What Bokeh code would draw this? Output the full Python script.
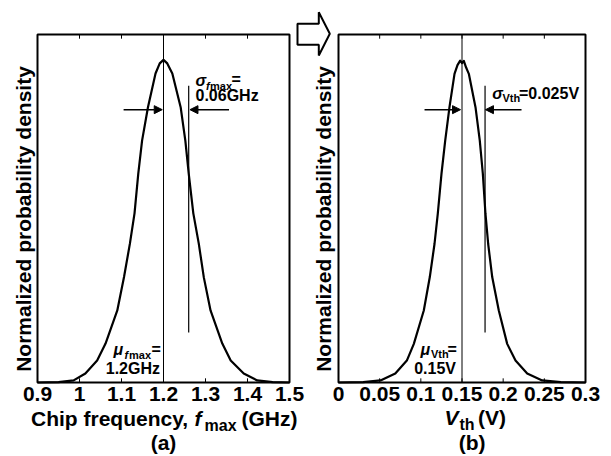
from math import pi
from bokeh.plotting import figure
from bokeh.models import Range1d, Label, Arrow, NormalHead, PolyAnnotation
from bokeh.core.properties import value
from bokeh.embed import file_html
from bokeh.resources import INLINE

# ---------------- data ----------------
fmax_ghz = [0.900, 0.950, 0.986, 1.014, 1.042, 1.062, 1.090, 1.106, 1.120,
            1.131, 1.140, 1.149, 1.163, 1.181, 1.191, 1.200, 1.209, 1.221,
            1.241, 1.252, 1.260, 1.271, 1.284, 1.296, 1.312, 1.340, 1.360,
            1.391, 1.423, 1.460, 1.500]
fmax_density = [0.000, 0.001, 0.006, 0.026, 0.063, 0.112, 0.207, 0.303, 0.399,
                0.486, 0.601, 0.695, 0.791, 0.888, 0.917, 0.927, 0.917, 0.888,
                0.790, 0.695, 0.601, 0.486, 0.399, 0.302, 0.207, 0.112, 0.063,
                0.026, 0.006, 0.001, 0.000]

vth_v = [0.000, 0.030, 0.051, 0.069, 0.083, 0.0915, 0.1036, 0.1109, 0.1166,
         0.1206, 0.1251, 0.1296, 0.1348, 0.1409, 0.1445, 0.1478, 0.1500,
         0.1522, 0.1550, 0.1583, 0.1664, 0.1716, 0.1753, 0.1785, 0.1818,
         0.1867, 0.1947, 0.2049, 0.2150, 0.2292, 0.2474, 0.2700, 0.3000]
vth_density = [0.000, 0.001, 0.006, 0.026, 0.063, 0.111, 0.207, 0.303, 0.398,
               0.485, 0.600, 0.695, 0.791, 0.887, 0.912, 0.925, 0.918,
               0.924, 0.905, 0.887, 0.791, 0.695, 0.600, 0.485, 0.398,
               0.303, 0.207, 0.111, 0.063, 0.026, 0.006, 0.001, 0.000]

fmax_ticks = [0.9, 1.0, 1.1, 1.2, 1.3, 1.4, 1.5]
fmax_tick_labels = ["0.9", "1", "1.1", "1.2", "1.3", "1.4", "1.5"]
vth_ticks = [0.0, 0.05, 0.1, 0.15, 0.2, 0.25, 0.3]
vth_tick_labels = ["0", "0.05", "0.1", "0.15", "0.2", "0.25", "0.3"]

fmax_mu, fmax_sigma_mark = 1.2, 1.26
vth_mu, vth_sigma_mark = 0.15, 0.178
sigma_mark_bottom, sigma_mark_top = 0.144, 0.853
arrow_level = 0.784
fmax_arrows = [(1.105, 1.197), (1.356, 1.263)]
vth_arrows = [(0.1045, 0.1482), (0.2223, 0.1785)]

# ---------------- layout geometry (page pixels) ----------------
W, H, PAGE = 611, 456, 0
L0, L1 = 37, 289          # left panel box
R0, R1 = 338, 585         # right panel box
TOP, BOT = 34, 382        # both boxes
TICK_LEN = 0.012          # inward tick length (in box-height units)
BASE_SHIFT = 0.42         # text anchor correction (fraction of font size)

def ly(py):
    return (BOT - py) / (BOT - TOP)

def lx(px):
    return fmax_ticks[0] + (px - L0) * (fmax_ticks[-1] - fmax_ticks[0]) / (L1 - L0)

def rx(px):
    return vth_ticks[0] + (px - R0) * (vth_ticks[-1] - vth_ticks[0]) / (R1 - R0)

FONT = "Liberation Sans"

p = figure(width=W, height=H,
           x_range=Range1d(lx(PAGE), lx(PAGE + W)),
           y_range=Range1d(ly(PAGE + H), ly(PAGE)),
           x_axis_type=None, y_axis_type=None,
           toolbar_location=None, output_backend="svg",
           min_border=0, min_border_left=0, min_border_right=0,
           min_border_top=0, min_border_bottom=0)
p.outline_line_color = None
p.background_fill_color = "white"
p.border_fill_color = "white"
p.extra_x_ranges = {"v": Range1d(rx(PAGE), rx(PAGE + W))}

# ---- panel boxes ----
p.quad(left=[fmax_ticks[0]], right=[fmax_ticks[-1]], bottom=[0], top=[1],
       fill_color=None, line_color="black", line_width=2)
p.quad(left=[vth_ticks[0]], right=[vth_ticks[-1]], bottom=[0], top=[1],
       fill_color=None, line_color="black", line_width=2, x_range_name="v")

# ---- inward ticks (bottom and top) and tick labels ----
TICK_FS = 21
for ticks, labels, rng in ((fmax_ticks, fmax_tick_labels, "default"),
                           (vth_ticks, vth_tick_labels, "v")):
    n = len(ticks)
    p.segment(x0=ticks, y0=[0] * n, x1=ticks, y1=[TICK_LEN] * n,
              line_color="black", line_width=1, x_range_name=rng)
    p.segment(x0=ticks, y0=[1] * n, x1=ticks, y1=[1 - TICK_LEN] * n,
              line_color="black", line_width=1, x_range_name=rng)
    p.text(x=ticks, y=[ly(402 - BASE_SHIFT * TICK_FS)] * n, text=labels,
           x_range_name=rng,
           text_font=value(FONT), text_font_style="bold",
           text_font_size=f"{TICK_FS}px", text_color="black",
           text_align="center", text_baseline="alphabetic")

# ---- vertical marker lines ----
p.segment(x0=[fmax_mu], y0=[0], x1=[fmax_mu], y1=[1], line_color="black", line_width=1)
p.segment(x0=[fmax_sigma_mark], y0=[sigma_mark_bottom], x1=[fmax_sigma_mark],
          y1=[sigma_mark_top], line_color="black", line_width=1.2)
p.segment(x0=[vth_mu], y0=[0], x1=[vth_mu], y1=[1], line_color="black",
          line_width=1, x_range_name="v")
p.segment(x0=[vth_sigma_mark], y0=[sigma_mark_bottom], x1=[vth_sigma_mark],
          y1=[sigma_mark_top], line_color="black", line_width=1.2, x_range_name="v")

# ---- curves ----
p.line(fmax_ghz, fmax_density, line_color="black", line_width=2.2, line_join="round")
p.line(vth_v, vth_density, line_color="black", line_width=2.2, line_join="round",
       x_range_name="v")

# ---- small arrows ----
for (xs, xe) in fmax_arrows:
    p.add_layout(Arrow(end=NormalHead(size=8, fill_color="black", line_color="black"),
                       x_start=xs, y_start=arrow_level, x_end=xe, y_end=arrow_level,
                       line_color="black", line_width=1.5))
for (xs, xe) in vth_arrows:
    p.add_layout(Arrow(end=NormalHead(size=8, fill_color="black", line_color="black"),
                       x_start=xs, y_start=arrow_level, x_end=xe, y_end=arrow_level,
                       line_color="black", line_width=1.5, x_range_name="v"))

# ---- big hollow arrow between the panels ----
arrow_px = [(297, 23.3), (318.3, 23.3), (318.3, 11.7), (329.3, 33.3),
            (318.3, 55), (318.3, 44.3), (297, 44.3)]
p.add_layout(PolyAnnotation(xs=[lx(a) for a, b in arrow_px],
                            ys=[ly(b) for a, b in arrow_px],
                            fill_color="white", fill_alpha=1.0,
                            line_color="black", line_alpha=1.0, line_width=2))

# ---- texts ----
def lab(text, px, py, size, style="bold", align="left", baseline="alphabetic", angle=0):
    if baseline == "alphabetic":
        py = py - BASE_SHIFT * size
    p.add_layout(Label(x=lx(px), y=ly(py), text=text, text_font=FONT,
                       text_font_size=f"{size}px", text_font_style=style,
                       text_color="black", text_align=align,
                       text_baseline=baseline, angle=angle))

# y-axis titles
lab("Normalized probability density", 23, 218.5, 21, align="center",
    baseline="middle", angle=pi / 2)
lab("Normalized probability density", 322.5, 218.5, 21, align="center",
    baseline="middle", angle=pi / 2)

# sigma annotation, left
lab("\u03c3", 195, 87, 16, style="bold italic")
lab("f", 205.5, 90, 11, style="bold italic")
lab("max", 209.5, 90, 11)
lab("=", 231, 85.5, 16)
lab("0.06GHz", 195, 102, 16)

# mu annotation, left
lab("\u03bc", 113, 356, 16, style="bold italic")
lab("f", 124, 359, 11, style="bold italic")
lab("max", 128.5, 359, 11)
lab("=", 151, 356, 16)
lab("1.2GHz", 159.5, 375, 16, align="right")

# sigma annotation, right
lab("\u03c3", 491.7, 99.5, 16, style="bold italic")
lab("Vth", 502, 102.5, 11)
lab("=0.025V", 518.5, 99.5, 16)

# mu annotation, right
lab("\u03bc", 420, 355.5, 16, style="bold italic")
lab("Vth", 430.5, 358.5, 11)
lab("=", 447, 355.5, 16)
lab("0.15V", 455.5, 375, 16, align="right")

# x-axis titles
lab("Chip frequency,", 30.5, 427, 21)
lab("f", 194, 427, 21, style="bold italic")
lab("max", 204, 432, 16)
lab("(GHz)", 241, 427, 21)
lab("(a)", 163, 451, 21, align="center")

lab("V", 444, 426, 21, style="bold italic")
lab("th", 459, 431, 16)
lab("(V)", 477.5, 426, 21)
lab("(b)", 471.7, 451, 21, align="center")

open("out.html", "w").write(file_html(p, INLINE))
